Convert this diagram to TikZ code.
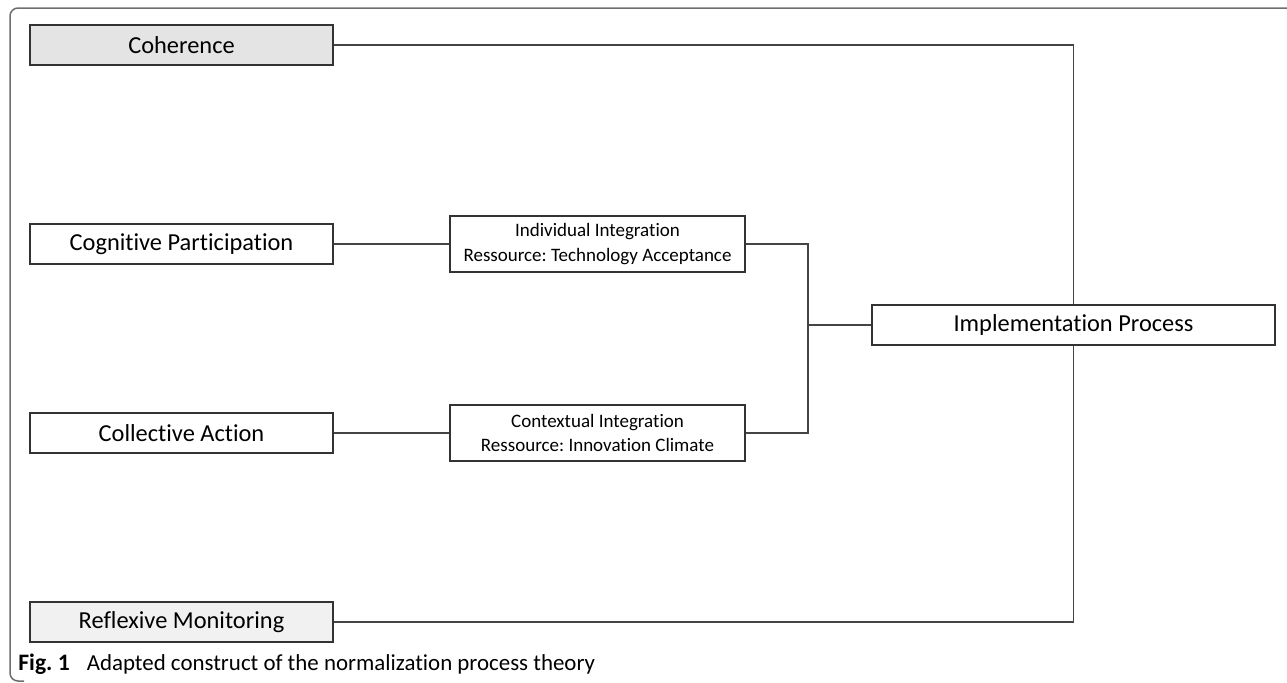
\documentclass[tikz,border=0pt]{standalone}
\usepackage{fontspec}
\setsansfont{Carlito}[Ligatures=NoCommon]
\frenchspacing
\usetikzlibrary{positioning, calc}
\definecolor{boxline}{HTML}{333333}
\definecolor{linkgray}{HTML}{444444}
\definecolor{framegray}{HTML}{6E6E6E}
\definecolor{cohgray}{HTML}{E4E4E4}
\definecolor{refgray}{HTML}{F1F1F1}
\tikzset{
  B/.style={draw=boxline, fill=white, minimum width=151.5pt, minimum height=20pt,
    inner sep=0pt, align=center, font=\fontsize{12.2}{14}\selectfont\sffamily, line width=0.75pt},
  S/.style={draw=boxline, fill=white, minimum width=147.5pt, minimum height=28pt,
    inner sep=0pt, align=center, font=\fontsize{9.5}{12.3}\selectfont\sffamily, line width=0.75pt},
  l/.style={draw=linkgray, line width=0.6pt},
}
\begin{document}
\begin{tikzpicture}[x=0.5pt, y=-0.5pt]
\useasboundingbox (0,0) rectangle (1287,682);

% ═══════════════════════════════════════════════════════════════
% FRAME
% ═══════════════════════════════════════════════════════════════
\draw[framegray, line width=0.75pt, rounded corners=4pt]
  (1290,8) -- (10,8) -- (10,681) -- (24,681);

% ═══════════════════════════════════════════════════════════════
% CONSTRUCTS — left column
% ═══════════════════════════════════════════════════════════════
\node[B, fill=cohgray] at (181.5,45) (coh) {Coherence};
\node[B] at (181.5,244) (cog) {Cognitive Participation};
\node[B] at (181.5,433) (col) {Collective Action};
\node[B, fill=refgray] at (181.5,622) (ref) {Reflexive Monitoring};

% Integration resources
\node[S] at (597.5,244) (ind)
  {Individual Integration\\Ressource: Technology Acceptance};
\node[S] at (597.5,433) (ctx)
  {Contextual Integration\\Ressource: Innovation Climate};

% Outcome
\node[B, minimum width=201.5pt] at (1073.5,325) (impl) {Implementation Process};

% ═══════════════════════════════════════════════════════════════
% CONNECTORS
% ═══════════════════════════════════════════════════════════════
\draw[l] (cog) -- (ind);
\draw[l] (col) -- (ctx);

\coordinate (jn) at (808,325);
\draw[l] (ind.east) -- (ind.east -| jn) -- (ctx.east -| jn) -- (ctx.east);
\draw[l] (jn) -- (impl.west);

\draw[l] (coh.east) -| (impl.north);
\draw[l] (ref.east) -| (impl.south);

% Caption
\node[anchor=base west, inner sep=0pt, font=\fontsize{11.45}{13}\selectfont\sffamily]
  at (18,670) (cap)
  {{\fontsize{11.8}{13}\selectfont\textbf{Fig. 1}}\hspace{8.5pt}Adapted construct of the normalization process theory};

\end{tikzpicture}
\end{document}
